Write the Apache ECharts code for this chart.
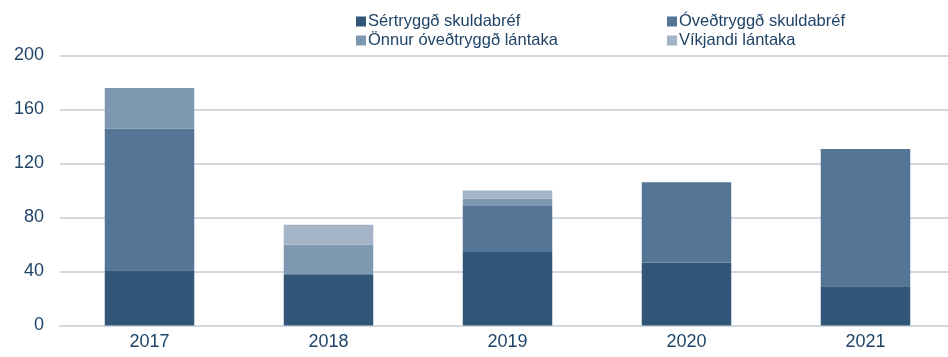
<!DOCTYPE html>
<html>
<head>
<meta charset="utf-8">
<script src="https://cdn.jsdelivr.net/npm/echarts@6/dist/echarts.min.js"></script>
<style>
  html, body { margin: 0; padding: 0; background: #fff; }
  #chart { width: 948px; height: 357px; }
</style>
</head>
<body>
<div id="chart"></div>
<script>
// Years on the category axis
const years = ['2017', '2018', '2019', '2020', '2021'];

// Stacked components (ma.kr.)
const sertryggd = [41, 38, 54.5, 46.7, 29];
const overdtryggd = [104.7, 0, 34.5, 59.5, 101.7];
const onnur = [30.3, 22, 5, 0, 0];
const vikjandi = [0, 14.6, 6, 0, 0];

const seriesNames = ['Sértryggð skuldabréf', 'Óveðtryggð skuldabréf', 'Önnur óveðtryggð lántaka', 'Víkjandi lántaka'];
const seriesData = [sertryggd, overdtryggd, onnur, vikjandi];
const colors = ['#325677', '#557596', '#7f98b2', '#a3b4c8'];

const textColor = '#1f4468';
const font = 'Liberation Sans, Arial, sans-serif';

const chart = echarts.init(document.getElementById('chart'), null, { renderer: 'canvas' });

// One legend per entry so the two-column layout is fixed
const legendPos = [
  { left: 356, top: 13 },
  { left: 667, top: 13 },
  { left: 356, top: 32 },
  { left: 667, top: 32 }
];

chart.setOption({
  animation: false,
  color: colors,
  legend: seriesNames.map((name, i) => ({
    data: [name],
    left: legendPos[i].left,
    top: legendPos[i].top,
    icon: 'rect',
    itemWidth: 10,
    itemHeight: 10,
    itemGap: 0,
    padding: 0,
    textStyle: { color: textColor, fontSize: 16.5, fontFamily: font, padding: [0, 0, 0, -3] }
  })),
  // the last category band runs a few pixels past the right edge
  grid: { left: 60, top: 55.5, right: -7, bottom: 31.5, containLabel: false, outerBoundsMode: 'none' },
  xAxis: {
    type: 'category',
    data: years,
    axisLine: { show: true, lineStyle: { color: '#d3d9e0', width: 2 } },
    axisTick: { show: false },
    axisLabel: { color: textColor, fontSize: 18, fontFamily: font, margin: 8 }
  },
  yAxis: {
    type: 'value',
    min: 0,
    max: 200,
    interval: 40,
    axisLine: { show: false },
    axisTick: { show: false },
    axisLabel: { color: textColor, fontSize: 18, fontFamily: font, margin: 16 },
    splitLine: { lineStyle: { color: '#d3d9e0', width: 2 } }
  },
  series: seriesNames.map((name, i) => ({
    name: name,
    type: 'bar',
    stack: 'total',
    barWidth: '50%',
    data: seriesData[i],
    itemStyle: { color: colors[i] }
  }))
});
</script>
</body>
</html>
